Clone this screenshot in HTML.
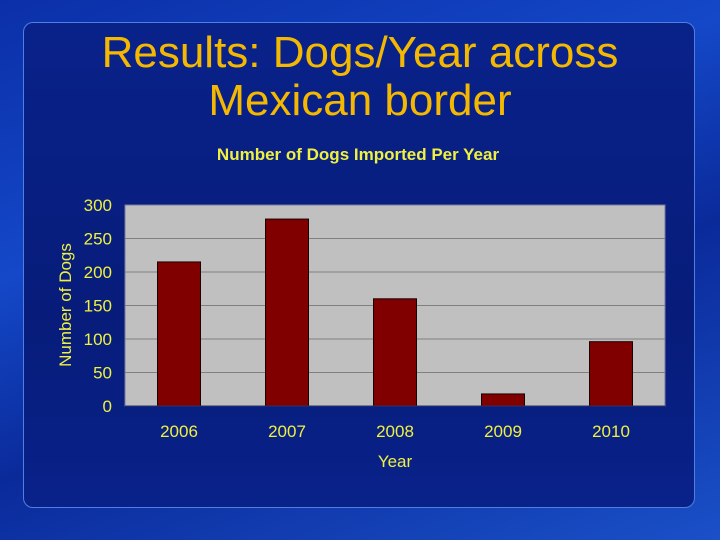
<!DOCTYPE html>
<html><head><meta charset="utf-8"><style>
html,body{margin:0;padding:0}
body{width:720px;height:540px;overflow:hidden;position:relative;font-family:"Liberation Sans",sans-serif;
background:linear-gradient(160deg,#0b2fa8 0%,#1448c8 35%,#0a2a9a 60%,#1a50c8 100%);}
#panel{position:absolute;left:23px;top:22px;width:672px;height:486px;border:1px solid #4f7fe0;border-radius:10px;
background:linear-gradient(180deg,#09228a 0%,#071c7a 60%,#09228a 100%);box-sizing:border-box}
#title{position:absolute;left:0;top:29px;width:720px;text-align:center;color:#f5b800;font-size:44px;line-height:48px}
svg{position:absolute;left:0;top:0}
</style></head><body>
<div id="panel"></div>
<div id="title">Results: Dogs/Year across<br>Mexican border</div>
<svg id="chart" width="720" height="540"></svg>
<script>
const categories=["2006","2007","2008","2009","2010"];
const values=[215,279,160,18,96];
const yTicks=[0,50,100,150,200,250,300];
const NS="http://www.w3.org/2000/svg";
const svg=document.getElementById('chart');
const X0=125,X1=665,Y0=406,Y1=205,YMAX=300;
const y=v=>Y0-(v/YMAX)*(Y0-Y1);
const band=(X1-X0)/categories.length;
const xc=i=>X0+band*(i+0.5);
function mk(t,a,txt){const e=document.createElementNS(NS,t);for(const k in a)e.setAttribute(k,a[k]);if(txt!==undefined)e.textContent=txt;svg.appendChild(e);return e;}
let e=mk('text',{x:358,y:160,'text-anchor':'middle',fill:'#f0f040','font-size':17,'font-weight':'bold'},'Number of Dogs Imported Per Year');


e=mk('rect',{x:X0,y:Y1,width:X1-X0,height:Y0-Y1,fill:'#c0c0c0',stroke:'#7a7aa0','stroke-width':1});


yTicks.forEach(t=>{
 if(t>0&&t<YMAX){const g=mk('line',{x1:X0,x2:X1,y1:y(t),y2:y(t),stroke:'#808080','stroke-width':1});
 
 }
 const l=mk('text',{x:112,y:y(t)+6,'text-anchor':'end',fill:'#f0f040','font-size':17},String(t));
 
 
});
categories.forEach((c,i)=>{
 const b=mk('rect',{x:xc(i)-21.5,y:y(values[i]),width:43,height:Y0-y(values[i]),fill:'#800000',stroke:'#1a0000','stroke-width':1});
 
 
 const l=mk('text',{x:xc(i),y:437,'text-anchor':'middle',fill:'#f0f040','font-size':17},c);
 
 
});
e=mk('line',{x1:X0,x2:X1,y1:Y0,y2:Y0,stroke:'#303060','stroke-width':1});


e=mk('text',{x:395,y:467,'text-anchor':'middle',fill:'#f0f040','font-size':17},'Year');


e=mk('text',{x:0,y:0,'text-anchor':'middle',fill:'#f0f040','font-size':17,transform:'translate(71,305) rotate(-90)'},'Number of Dogs');


</script>
</body></html>
